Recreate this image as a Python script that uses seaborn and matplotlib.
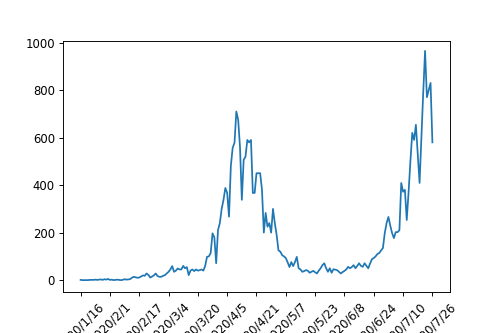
import matplotlib
matplotlib.use("Agg")
import matplotlib.pyplot as plt
import seaborn as sns
import pandas as pd

# Daily values from 2020/1/16 to 2020/7/26
cases = [
    1, 0, 0, 0, 0, 1, 1, 1, 2, 1, 2, 3, 1, 4, 2, 5, 1, 2, 0, 1, 2, 1, 0, 1, 4, 2,   # d0-25
    3, 4, 10, 14, 12, 10, 11, 15, 20, 18, 28, 22, 11, 15, 20, 28, 17, 14, 14, 18,  # d26-45
    21, 28, 35, 45, 59, 35, 40, 49, 45, 45, 60, 50, 55, 21, 40, 45, 38, 45, 40, 42,  # d46-65
    45, 40, 60, 98, 100, 114, 197, 180, 71, 211, 240, 300, 338, 388, 367, 267,  # d66-81
    480, 557, 578, 710, 675, 560, 338, 506, 520, 590, 580, 590, 367, 367, 450,  # d82-96
    450, 450, 380, 200, 283, 225, 240, 200, 300, 240, 190, 125, 120, 105, 100,  # d97-111
    93, 75, 55, 76, 59, 76, 98, 50, 45, 35, 38, 42, 40, 31, 35, 39, 33, 28, 40,  # d112-130
    50, 63, 71, 50, 35, 50, 31, 46, 44, 42, 35, 28, 34, 39, 45, 56, 50, 55, 63,  # d131-149
    50, 60, 71, 60, 56, 71, 60, 50, 70, 88, 93, 100, 110, 114, 125, 135, 198,  # d150-166
    240, 266, 230, 198, 177, 202, 202, 210, 409, 372, 380, 253, 370, 500, 620,  # d167-181
    590, 654, 530, 409, 600, 790, 965, 770, 800, 830, 580,  # d182-192
]
tick_labels = ["2020/1/16", "2020/2/1", "2020/2/17", "2020/3/4", "2020/3/20",
               "2020/4/5", "2020/4/21", "2020/5/7", "2020/5/23", "2020/6/8",
               "2020/6/24", "2020/7/10", "2020/7/26"]
tick_step = 16

df = pd.DataFrame({"day": range(len(cases)), "cases": cases})

fig = plt.figure(figsize=(6, 4), dpi=83.33)
ax = fig.add_axes([0.126, 0.123, 0.774, 0.754])
sns.lineplot(data=df, x="day", y="cases", ax=ax, color="#1f77b4", linewidth=1.5)
ax.set_xticks(list(range(0, len(cases), tick_step)))
ax.set_xticklabels(tick_labels, rotation=45, fontsize=10)
ax.set_yticks([0, 200, 400, 600, 800, 1000])
ax.tick_params(axis="y", labelsize=10)
ax.set_xlabel("")
ax.set_ylabel("")
ax.set_ylim(-50, 1008)
fig.savefig("out.png", dpi=83.33)
